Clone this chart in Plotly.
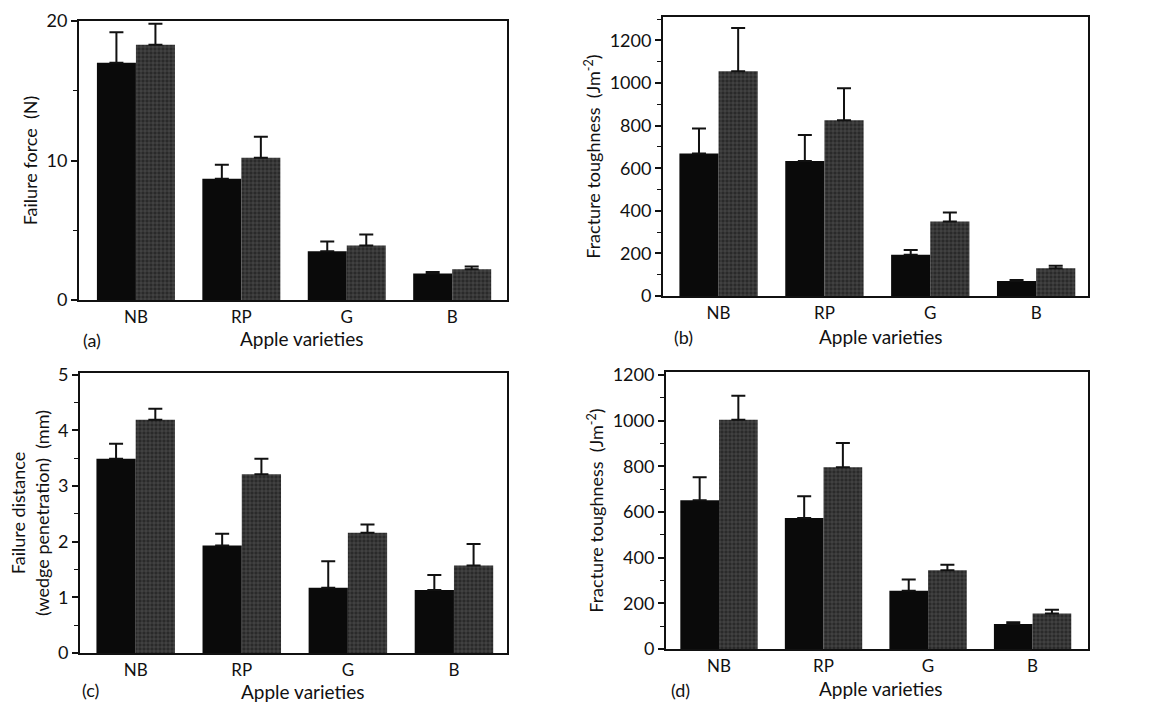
import plotly.graph_objects as go

varieties = ["NB", "RP", "G", "B"]

# (a) failure force (N)
a_black = [17.0, 8.7, 3.5, 1.9]
a_black_err = [2.2, 1.0, 0.7, 0.1]
a_grey = [18.3, 10.2, 3.9, 2.2]
a_grey_err = [1.5, 1.5, 0.8, 0.2]

# (b) fracture toughness (J m^-2)
b_black = [669, 634, 194, 70]
b_black_err = [117, 122, 22, 5]
b_grey = [1055, 825, 350, 130]
b_grey_err = [203, 150, 42, 12]

# (c) failure distance (mm)
c_black = [3.49, 1.93, 1.17, 1.13]
c_black_err = [0.27, 0.21, 0.48, 0.27]
c_grey = [4.19, 3.21, 2.16, 1.57]
c_grey_err = [0.20, 0.28, 0.15, 0.39]

# (d) fracture toughness (J m^-2)
d_black = [651, 574, 255, 109]
d_black_err = [101, 95, 49, 8]
d_grey = [1004, 796, 345, 155]
d_grey_err = [105, 106, 24, 17]

panels = [
    ("x", "y", a_black, a_black_err, a_grey, a_grey_err),
    ("x2", "y2", b_black, b_black_err, b_grey, b_grey_err),
    ("x3", "y3", c_black, c_black_err, c_grey, c_grey_err),
    ("x4", "y4", d_black, d_black_err, d_grey, d_grey_err),
]

W, H = 1154, 705
FONT = "Lato"

fig = go.Figure()
for xa, ya, bk, bke, gr, gre in panels:
    fig.add_trace(go.Bar(
        x=varieties, y=bk, xaxis=xa, yaxis=ya, offsetgroup="1",
        marker=dict(color="#0a0a0a", line=dict(width=0)),
        error_y=dict(type="data", array=bke, symmetric=False, arrayminus=[0]*4,
                     color="#111", thickness=2, width=7),
        showlegend=False))
    fig.add_trace(go.Bar(
        x=varieties, y=gr, xaxis=xa, yaxis=ya, offsetgroup="2",
        marker=dict(color="#2a2a2a", line=dict(width=0),
                    pattern=dict(shape="+", fgcolor="#8c8c8c", bgcolor="#2a2a2a",
                                 size=4, solidity=0.25)),
        error_y=dict(type="data", array=gre, symmetric=False, arrayminus=[0]*4,
                     color="#111", thickness=2, width=7),
        showlegend=False))

def px(v, total):
    return v / total

xdom = {
    "a": [px(79, W), px(507, W)],
    "b": [px(663, W), px(1088, W)],
    "c": [px(80, W), px(507, W)],
    "d": [px(666, W), px(1088, W)],
}
ydom = {
    "a": [1 - px(300, H), 1 - px(21, H)],
    "b": [1 - px(296, H), 1 - px(17, H)],
    "c": [1 - px(653, H), 1 - px(373, H)],
    "d": [1 - px(649, H), 1 - px(372, H)],
}
xrng = {"a": [-0.54, 3.52], "b": [-0.525, 3.49], "c": [-0.525, 3.50], "d": [-0.507, 3.53]}
yrng = {"a": [0, 20], "b": [0, 1310], "c": [0, 5.03], "d": [0, 1213]}
ydt = {"a": 10, "b": 200, "c": 1, "d": 200}
ymn = {"a": 5, "b": 100, "c": 0.5, "d": 100}
ytitle = {
    "a": "Failure force  (N)",
    "b": "Fracture toughness  (Jm<sup>-2</sup>)",
    "c": "Failure distance<br>(wedge penetration)  (mm)",
    "d": "Fracture toughness  (Jm<sup>-2</sup>)",
}
names = ["a", "b", "c", "d"]
for i, k in enumerate(names):
    sx = "xaxis" if i == 0 else f"xaxis{i+1}"
    sy = "yaxis" if i == 0 else f"yaxis{i+1}"
    anc_x = "y" if i == 0 else f"y{i+1}"
    anc_y = "x" if i == 0 else f"x{i+1}"
    fig.layout[sx] = dict(
        domain=xdom[k], anchor=anc_x, range=xrng[k], type="category",
        showline=True, linecolor="#111", linewidth=2, mirror=True,
        ticks="", showgrid=False, zeroline=False, automargin=False,
        ticklabelstandoff=1,
        tickfont=dict(family=FONT, size=17, color="#111"))
    fig.layout[sy] = dict(
        domain=ydom[k], anchor=anc_y, range=yrng[k], dtick=ydt[k],
        showline=True, linecolor="#111", linewidth=2, mirror=True,
        ticks="outside", ticklen=6, tickwidth=1.5, tickcolor="#111",
        minor=dict(dtick=ymn[k], ticks="outside", ticklen=4, tickwidth=1.2, tickcolor="#111"),
        showgrid=False, zeroline=False, automargin=False,
        tickfont=dict(family=FONT, size=18, color="#111"),
        title=dict(text=ytitle[k], font=dict(family=FONT, size=18, color="#111"),
                   standoff=4))

labels = [("(a)", 92, 340, 302, 338), ("(b)", 683, 337, 881, 336),
          ("(c)", 90, 690, 303, 691), ("(d)", 680, 690, 881, 688)]
for lab, lx, ly, tx, ty in labels:
    fig.add_annotation(text=lab, x=px(lx, W), y=1 - px(ly, H), xref="paper", yref="paper",
                       xanchor="center", yanchor="middle",
                       showarrow=False, font=dict(family=FONT, size=18, color="#111"))
    fig.add_annotation(text="Apple varieties", x=px(tx, W), y=1 - px(ty, H), xref="paper",
                       yref="paper", xanchor="center", yanchor="middle", showarrow=False,
                       font=dict(family=FONT, size=19, color="#111"))

fig.update_layout(
    width=W, height=H, margin=dict(l=0, r=0, t=0, b=0, autoexpand=False),
    paper_bgcolor="white", plot_bgcolor="white",
    barmode="group", bargap=0.26, bargroupgap=0,
    font=dict(family=FONT, color="#111"))

fig.write_html("out.html", config={"displayModeBar": False},
               post_script="document.body.style.margin='0px';document.body.style.overflow='hidden';")
